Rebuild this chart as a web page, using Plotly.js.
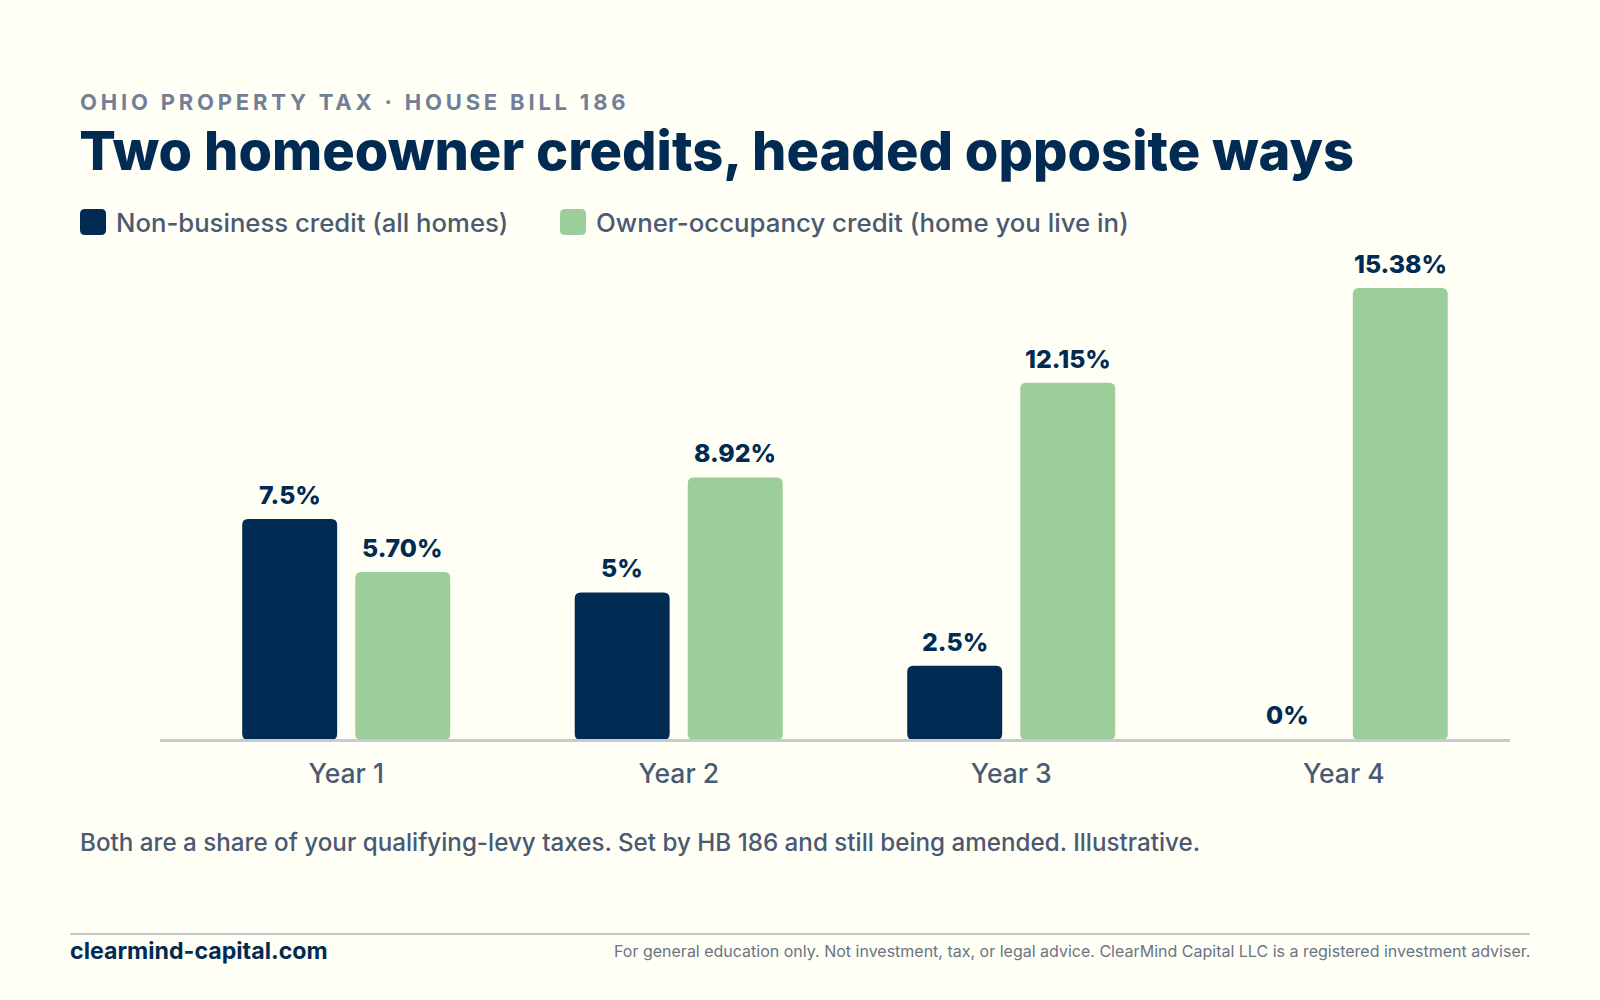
<!DOCTYPE html>
<html>
<head>
<meta charset="utf-8">
<script src="https://cdn.plot.ly/plotly-3.0.1.min.js"></script>
<style>html,body{margin:0;padding:0;background:#FFFFF6;}#chart{width:1600px;height:1000px;}</style>
</head>
<body>
<div id="chart"></div>
<script>
const years = ['Year 1', 'Year 2', 'Year 3', 'Year 4'];
const nonBusinessName = 'Non-business credit (all homes)';
const ownerOccupancyName = 'Owner-occupancy credit (home you live in)';
const nonBusiness = [7.5, 5, 2.5, 0];
const ownerOccupancy = [5.70, 8.92, 12.15, 15.38];
const nonBusinessLabels = ['7.5%', '5%', '2.5%', '0%'];
const ownerOccupancyLabels = ['5.70%', '8.92%', '12.15%', '15.38%'];
const eyebrow = 'OHIO PROPERTY TAX · HOUSE BILL 186';
const headline = 'Two homeowner credits, headed opposite ways';
const note = 'Both are a share of your qualifying-levy taxes. Set by HB 186 and still being amended. Illustrative.';
const site = 'clearmind-capital.com';
const disclaimer = 'For general education only. Not investment, tax, or legal advice. ClearMind Capital LLC is a registered investment adviser.';

const NAVY = '#012B52', GREEN = '#9CCE9B', SLATE = '#4A5A72', BG = '#FFFFF6';
const FONT = 'Inter, "Noto Sans", sans-serif';
const BASE = 739, PLOT_H = 470, LEFT = 160, PLOT_W = 1350;
const X = p => (p - LEFT) / PLOT_W, Y = p => (BASE - p) / PLOT_H;

function bar(name, y, color) {
  return {type: 'bar', name, x: years.map((_, i) => i), y,
    marker: {color, cornerradius: 6, line: {width: 0}}, hoverinfo: 'skip'};
}
function dataLabel(i, v, txt, dx) {
  return {xref: 'x', yref: 'y', x: i + dx, y: v, text: txt, showarrow: false,
    xanchor: 'center', yanchor: 'bottom', yshift: 7,
    font: {family: FONT, size: 24.8, color: NAVY, weight: 800}};
}
function pageText(x, y, text, size, color, anchor, weight) {
  return {xref: 'paper', yref: 'paper', x: X(x), y: Y(y), text, showarrow: false,
    xanchor: anchor || 'left', yanchor: 'middle', align: anchor || 'left',
    font: {family: FONT, size, color, weight: weight || 500}};
}
function swatch(x0, y0, size, r, color) {
  const x1 = x0 + size, y1 = y0 + size;
  const P = (a, b) => X(a) + ' ' + Y(b);
  return {type: 'path', xref: 'paper', yref: 'paper', fillcolor: color, line: {width: 0},
    path: `M ${P(x0 + r, y0)} L ${P(x1 - r, y0)} Q ${P(x1, y0)} ${P(x1, y0 + r)} L ${P(x1, y1 - r)} Q ${P(x1, y1)} ${P(x1 - r, y1)} L ${P(x0 + r, y1)} Q ${P(x0, y1)} ${P(x0, y1 - r)} L ${P(x0, y0 + r)} Q ${P(x0, y0)} ${P(x0 + r, y0)} Z`};
}

const annotations = [
  pageText(78, 102, eyebrow, 22, '#718096', 'left', 700),
  pageText(114, 222.5, nonBusinessName, 25.7, SLATE),
  pageText(594, 222.5, ownerOccupancyName, 25.8, SLATE),
  pageText(78, 842, note, 24.2, SLATE),
  pageText(68, 951, site, 23.2, NAVY, 'left', 700),
  pageText(1532, 951, disclaimer, 16, '#6B7484', 'right', 400)
];
years.forEach((_, i) => {
  annotations.push(dataLabel(i, nonBusiness[i], nonBusinessLabels[i], -0.17));
  annotations.push(dataLabel(i, ownerOccupancy[i], ownerOccupancyLabels[i], 0.17));
});

const layout = {
  width: 1600, height: 1000,
  paper_bgcolor: BG, plot_bgcolor: BG,
  margin: {l: LEFT, r: 90, t: 269, b: 261, pad: 0},
  barmode: 'group', bargap: 0.32, bargroupgap: 0.16,
  showlegend: false,
  title: {text: headline, xref: 'container', yref: 'container', x: 0.0495, xanchor: 'left',
    y: 0.849, yanchor: 'middle', font: {family: FONT, size: 54.2, color: NAVY, weight: 800}},
  xaxis: {range: [-0.56, 3.5], tickmode: 'array', tickvals: years.map((_, i) => i), ticktext: years,
    showgrid: false, zeroline: false, showline: true, linecolor: '#C4CCD2', linewidth: 2.5, layer: 'below traces',
    ticks: 'outside', ticklen: 10, tickcolor: 'rgba(0,0,0,0)',
    tickfont: {family: FONT, size: 26.5, color: SLATE, weight: 500}},
  yaxis: {range: [0, 16.03], visible: false, fixedrange: true},
  annotations,
  shapes: [
    swatch(80, 209, 26, 5, NAVY),
    swatch(560, 209, 26, 5, GREEN),
    {type: 'line', xref: 'paper', yref: 'paper', x0: X(70), x1: X(1530),
     y0: Y(934), y1: Y(934), line: {color: '#C6C8CC', width: 2}}
  ]
};

Plotly.newPlot('chart', [bar(nonBusinessName, nonBusiness, NAVY), bar(ownerOccupancyName, ownerOccupancy, GREEN)],
  layout, {staticPlot: true, displayModeBar: false}).then(gd => {
  // round all four corners of each drawn bar, from the geometry Plotly computed
  gd.querySelectorAll('.barlayer .point path').forEach(p => {
    const b = p.getBBox();
    if (b.height < 1) return;
    const r = 6, x = b.x, y = b.y, w = b.width, h = b.height + 1;
    p.setAttribute('d', `M${x + r},${y}H${x + w - r}Q${x + w},${y} ${x + w},${y + r}V${y + h - r}Q${x + w},${y + h} ${x + w - r},${y + h}H${x + r}Q${x},${y + h} ${x},${y + h - r}V${y + r}Q${x},${y} ${x + r},${y}Z`);
  });
  const e = gd.querySelector('.annotation text');
  if (e) e.style.letterSpacing = '3.8px';
});
</script>
</body>
</html>
